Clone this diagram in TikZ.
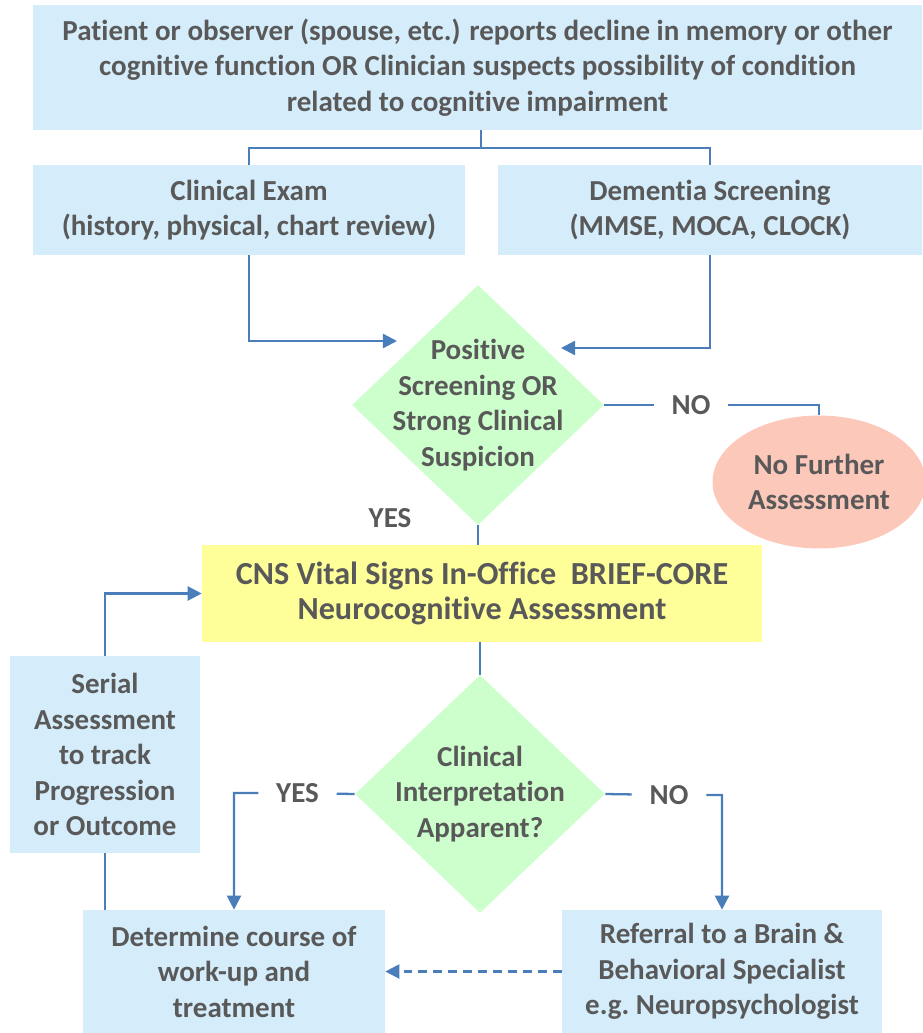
\documentclass[tikz,border=0pt]{standalone}
\usepackage{fontspec}
\setmainfont{Carlito}[Ligatures=NoCommon]
\usepackage{tikz}
\usetikzlibrary{shapes.geometric,arrows.meta}

\definecolor{boxblue}{RGB}{213,237,251}
\definecolor{diagreen}{RGB}{204,255,204}
\definecolor{boxyellow}{RGB}{255,255,153}
\definecolor{ovalpink}{RGB}{252,200,186}
\definecolor{linkblue}{RGB}{74,126,187}
\definecolor{textgray}{RGB}{89,89,89}

\tikzset{
  txt/.style={text=textgray, font=\bfseries\fontsize{16.5}{20.2}\selectfont, align=center},
  bluebox/.style={txt, fill=boxblue, inner sep=0pt},
  dia/.style={diamond, fill=diagreen, inner sep=0pt},
  link/.style={draw=linkblue, line width=1.3pt},
  arr/.style={link, -{Triangle[length=8pt,width=8pt]}},
  answer/.style={txt, inner xsep=10pt, inner ysep=0pt}
}

\begin{document}
\begin{tikzpicture}[x=0.02cm, y=-0.02cm]
    \useasboundingbox (0, 0) rectangle (922, 1033);

    % first report
    \node [bluebox, minimum width=17.78cm, minimum height=2.5cm] (report) at (477.5, 67.5)
      {Patient or observer (spouse, etc.) reports decline in memory or other\\
       cognitive function OR Clinician suspects possibility of condition\\
       related to cognitive impairment};

    % exam and screening
    \node [bluebox, minimum width=8.64cm, minimum height=1.8cm] (exam) at (249, 210)
      {Clinical Exam\\(history, physical, chart review)};
    \node [bluebox, minimum width=8.48cm, minimum height=1.8cm] (screen) at (710, 210)
      {Dementia Screening\\(MMSE, MOCA, CLOCK)};

    \coordinate (split) at (481, 148);
    \draw [link] (report.south -| split) -- (split) -| (exam.north);
    \draw [link] (split) -| (screen.north);

    % first decision
    \node [dia, minimum width=5.04cm, minimum height=4.8cm,
      label={[txt]center:Positive\\Screening OR\\Strong Clinical\\Suspicion}] (positive) at (478, 405) {};

    \coordinate (examin) at (397, 341);
    \coordinate (screenin) at (561, 348);
    \draw [arr] (exam.south) |- (examin);
    \draw [arr] (screen.south) |- (screenin);

    % no further assessment
    \node [txt, ellipse, fill=ovalpink, inner sep=0pt, minimum width=4.26cm, minimum height=2.66cm] (stop) at (819, 482)
      {No Further\\Assessment};
    \node [answer] (no1) at (691, 405) {NO};
    \draw [link] (positive.east) -- (no1) -| (stop.north);

    \node [txt] (yes1) at (390, 518) {YES};

    % CNS vital signs
    \node [txt, font=\bfseries\fontsize{18.3}{20.2}\selectfont, fill=boxyellow, inner sep=0pt,
      minimum width=11.2cm, minimum height=1.94cm] (cns) at (482, 593.5)
      {CNS Vital Signs In-Office\ \ BRIEF-CORE\\Neurocognitive Assessment};
    \draw [link] (positive.south) -- (positive.south |- cns.north);

    % second decision
    \node [dia, minimum width=5.0cm, minimum height=4.76cm,
      label={[txt]center:Clinical\\Interpretation\\Apparent?}] (interp) at (480, 794) {};
    \draw [link] (cns.south -| interp.north) -- (interp.north);

    % serial assessment
    \node [bluebox, minimum width=3.8cm, minimum height=3.94cm] (serial) at (105, 754.5)
      {Serial\\Assessment\\to track\\Progression\\or Outcome};
    \draw [arr] (serial.north) |- (cns.west);

    % outcomes
    \node [bluebox, minimum width=6.04cm, minimum height=2.46cm] (workup) at (234, 971.5)
      {Determine course of\\work-up and\\treatment};
    \node [bluebox, minimum width=6.4cm, minimum height=2.46cm] (referral) at (722, 971.5)
      {Referral to a Brain \&\\Behavioral Specialist\\e.g.\ Neuropsychologist};

    \node [answer] (yes2) at (297.5, 793) {YES};
    \node [answer] (no2) at (669, 795) {NO};
    \draw [arr] (interp.west) -- (yes2) -| (workup.north);
    \draw [arr] (interp.east) -- (no2) -| (referral.north);

    \draw [link] (serial.south) -- (serial.south |- workup.north);
    \draw [arr, dash pattern=on 5pt off 3.5pt] (referral.west) -- (workup.east);

\end{tikzpicture}
\end{document}
